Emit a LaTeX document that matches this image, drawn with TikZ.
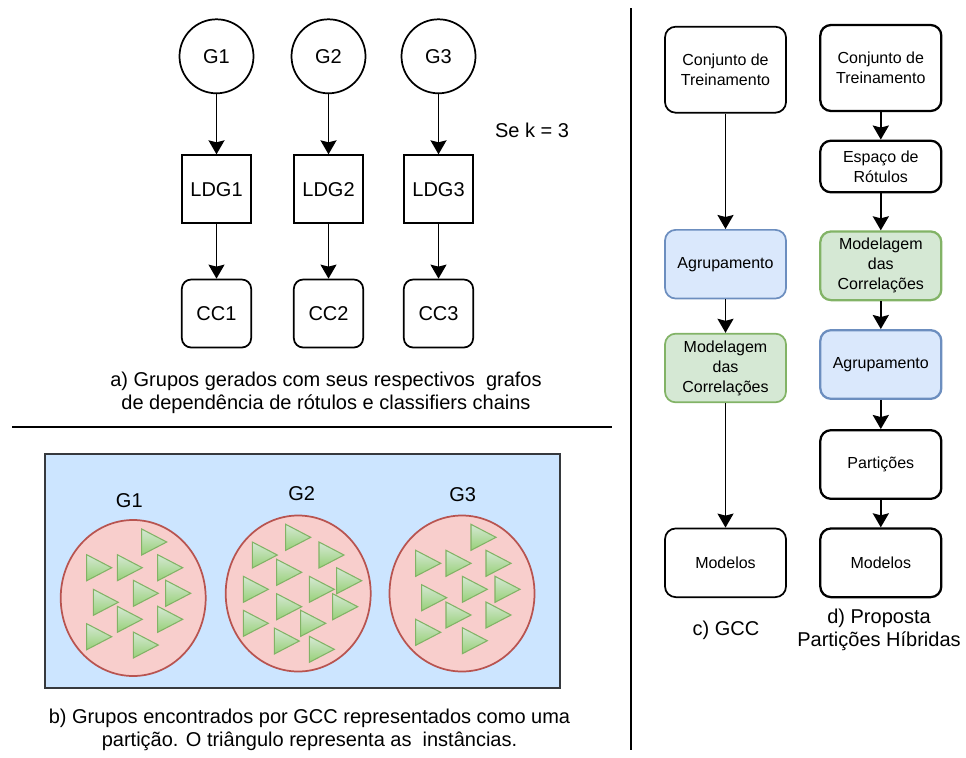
\documentclass[tikz,border=0pt]{standalone}
\usepackage{fontspec}
\setmainfont{Liberation Sans}
\usetikzlibrary{arrows.meta}
\definecolor{boxblue}{HTML}{DAE8FC}
\definecolor{boxblueline}{HTML}{6C8EBF}
\definecolor{boxgreen}{HTML}{D5E8D4}
\definecolor{boxgreenline}{HTML}{82B366}
\definecolor{trigreen}{HTML}{97D077}
\definecolor{partblue}{HTML}{CCE5FF}
\definecolor{partline}{HTML}{36393D}
\definecolor{grppink}{HTML}{F8CECC}
\definecolor{grppinkline}{HTML}{B85450}
\newcommand{\fsmall}{\fontsize{12}{15}\selectfont}
\newcommand{\fbig}{\fontsize{15}{17.5}\selectfont}
\tikzset{
  grp/.style = {draw,circle,minimum size=55.5pt,inner sep=0pt,font=\fbig},
  ldg/.style = {draw,rectangle,minimum width=52pt,minimum height=51pt,inner sep=0pt,font=\fbig},
  ccbox/.style = {ldg,rounded corners=7pt},
  lbl/.style = {inner sep=0pt,font=\fbig},
  capt/.style = {align=center,inner sep=0pt,font=\fontsize{15}{17.5}\selectfont},
  flow/.style = {draw,rounded corners=8pt,minimum width=90.75pt,minimum height=51.5pt,
    align=center,inner sep=0pt,font=\fsmall},
  flowblue/.style = {flow,fill=boxblue,draw=boxblueline},
  flowgreen/.style = {flow,fill=boxgreen,draw=boxgreenline},
  tri/.style = {draw=boxgreenline,line width=0.8pt,top color=boxgreen,bottom color=trigreen}
}
\tikzset{>={Stealth[length=10.5pt,width=12pt,inset=1.5pt]}}

\begin{document}
\begin{tikzpicture}[x=0.75pt,y=-0.75pt,line width=1.3pt]
  \useasboundingbox (0,0) rectangle (966,757);
  % a) grupos, LDG e CC
  \foreach \i/\x in {1/216.5,2/328.5,3/438.5} {
    \node[grp] (g\i) at (\x,56.3) {G\i};
    \node[ldg] (ldg\i) at (\x,189.2) {LDG\i};
    \node[ccbox] (cc\i) at (\x,313.5) {CC\i};
    \draw[->] (g\i) -- (ldg\i);
    \draw[->] (ldg\i) -- (cc\i);
  }
  \node[lbl] (k) at (532,130) {Se k = 3};
  \node[capt] (capa) at (326,393) {a) Grupos gerados com seus respectivos\ \ grafos\\de dependência de rótulos e classifiers chains};
  \draw (12,427) -- (612,427);
  \draw (631,8) -- (631,750);
  % b) particao
  \draw[fill=partblue,draw=partline] (45,454) rectangle (560,688);
  \foreach \n/\cx/\cy/\lx/\ly in {1/133.2/598/129.3/500.7,2/298.2/593.5/301.7/493.3,3/462/593.5/462.7/495} {
    \draw[fill=grppink,draw=grppinkline] (\cx,\cy) ellipse [x radius=72.5,y radius=78];
    \node[lbl] (pg\n) at (\lx,\ly) {G\n};
  }
  \foreach \tx/\ty in {141.7/542,86.7/567.7,117.3/567.7,157.7/567.7,133.3/593.3,165.7/593.3,
    93.3/602.3,117.3/619.3,157.7/619.3,86.7/636.7,133.3/645,
    285.7/537.3,252.3/555,319/555,276.7/572.3,243.3/589.3,309.3/589.3,336.7/580.7,
    276.7/606.7,332.7/606.7,243.3/623.3,300.7/623.3,274.3/641,309.3/649.3,
    471/537.3,415.7/563.3,446/563.3,486/563.3,462.3/589.3,495/589.3,421.7/597.7,
    446/615,486/615,415.7/632.3,462.3/640.7}
    \shade[tri] (\tx,\ty-13) -- (\tx+25,\ty) -- (\tx,\ty+13) -- cycle;
  \node[capt] (capb) at (309.5,730) {b) Grupos encontrados por GCC representados como uma\\partição. O triângulo representa as\ \ instâncias.};
  % c) GCC
  \node[flow,minimum height=64.5pt] (tr1) at (725.5,69.7) {Conjunto de\\Treinamento};
  \node[flowblue] (ag1) at (725.5,264.2) {Agrupamento};
  \node[flowgreen] (mc1) at (725.5,368) {Modelagem\\das\\Correlações};
  \node[flow] (mo1) at (725.5,562.8) {Modelos};
  \draw[->] (tr1) -- (ag1);
  \draw[->] (ag1) -- (mc1);
  \draw[->] (mc1) -- (mo1);
  \node[capt] (capc) at (726,630) {c) GCC};
  % d) particoes hibridas
  \begin{scope}[line width=1.7pt]
    \node[flow,minimum height=64.5pt] (tr2) at (880.8,68) {Conjunto de\\Treinamento};
    \node[flow,minimum height=38.7pt] (rot) at (880.8,166.5) {Espaço de\\Rótulos};
    \node[flowgreen] (mc2) at (880.8,265.8) {Modelagem\\das\\Correlações};
    \node[flowblue] (ag2) at (880.8,364.5) {Agrupamento};
    \node[flow] (pa) at (880.8,464.5) {Partições};
    \node[flow] (mo2) at (880.8,562.8) {Modelos};
    \draw[->] (tr2) -- (rot);
    \draw[->] (rot) -- (mc2);
    \draw[->] (mc2) -- (ag2);
    \draw[->] (ag2) -- (pa);
    \draw[->] (pa) -- (mo2);
  \end{scope}
  \node[capt] (capd) at (879,630) {d) Proposta\\Partições Híbridas};
\end{tikzpicture}
\end{document}
